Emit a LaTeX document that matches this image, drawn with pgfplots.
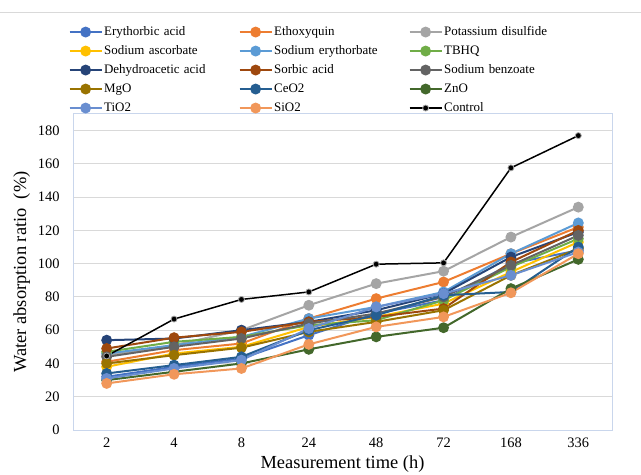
\documentclass[border=0pt]{standalone}
\usepackage{fontspec}
\setmainfont{Liberation Serif}
\usepackage{pgfplots}
\pgfplotsset{compat=1.18}
\definecolor{cEry}{HTML}{4472C4}
\definecolor{cEth}{HTML}{ED7D31}
\definecolor{cPot}{HTML}{A5A5A5}
\definecolor{cAsc}{HTML}{FFC000}
\definecolor{cSEr}{HTML}{5B9BD5}
\definecolor{cTBH}{HTML}{70AD47}
\definecolor{cDeh}{HTML}{264478}
\definecolor{cSor}{HTML}{9E480E}
\definecolor{cBen}{HTML}{636363}
\definecolor{cMgO}{HTML}{997300}
\definecolor{cCeO}{HTML}{255E91}
\definecolor{cZnO}{HTML}{43682B}
\definecolor{cTiO}{HTML}{698ED0}
\definecolor{cSiO}{HTML}{F1975A}
\definecolor{gridgray}{HTML}{D9D9D9}
\definecolor{axisblue}{HTML}{C9D6EC}
\begin{document}
\begin{tikzpicture}
\draw[gridgray, line width=1bp] (0bp,462bp) -- (641bp,462bp);
\begin{axis}[
  at={(73bp,45bp)}, anchor=south west,
  scale only axis, width=539bp, height=316bp,
  xmin=-0.5, xmax=7.5, ymin=0, ymax=190,
  xtick={0,...,7}, xticklabels={2,4,8,24,48,72,168,336},
  ytick={0,20,...,180},
  ymajorgrids, grid style={color=gridgray, line width=1bp},
  axis line style={color=axisblue, line width=1bp},
  major tick length=0pt,
  /pgf/number format/assume math mode=true,
  tick label style={font=\fontsize{14.5}{16}\selectfont},
  yticklabel style={xshift=-10bp},
  xticklabel style={yshift=-4bp},
  xlabel={Measurement time (h)}, ylabel={Water absorption ratio\ \ (\%)},
  label style={font=\fontsize{18.5}{20}\selectfont},
  xlabel style={yshift=-2bp},
  ylabel style={yshift=1bp},
  legend columns=3,
  legend cell align=left,
  legend style={at={(-0.014,1.29)}, anchor=north west, draw=none, fill=none,
    font=\fontsize{13}{14}\selectfont,
    nodes={inner sep=1.5bp, text height=9bp, text depth=3bp},
    row sep=4bp,
    /tikz/every even column/.append style={text width=133bp, align=left}},
  legend image code/.code={\draw[mark repeat=2,mark phase=2,#1] plot coordinates {(0bp,0bp) (16bp,0bp) (32bp,0bp)};},
  every axis plot/.append style={line width=2bp, mark=*, mark size=4.4bp},
]
\addplot[color=cEry, mark options={fill=cEry}] coordinates {(0,32) (1,38) (2,43) (3,57) (4,70) (5,78) (6,100) (7,108)};
\addlegendentry{Erythorbic acid}
\addplot[color=cEth, mark options={fill=cEth}] coordinates {(0,41) (1,48) (2,52) (3,67) (4,79) (5,89) (6,106) (7,122)};
\addlegendentry{Ethoxyquin}
\addplot[color=cPot, mark options={fill=cPot}] coordinates {(0,45) (1,51) (2,60) (3,75) (4,88) (5,95.5) (6,116) (7,134)};
\addlegendentry{Potassium disulfide}
\addplot[color=cAsc, mark options={fill=cAsc}] coordinates {(0,38) (1,46) (2,50) (3,62) (4,68) (5,76) (6,95) (7,113)};
\addlegendentry{Sodium ascorbate}
\addplot[color=cSEr, mark options={fill=cSEr}] coordinates {(0,46) (1,51) (2,56) (3,67) (4,74) (5,83) (6,106) (7,124.5)};
\addlegendentry{Sodium erythorbate}
\addplot[color=cTBH, mark options={fill=cTBH}] coordinates {(0,47) (1,53) (2,56) (3,63) (4,66) (5,78) (6,98) (7,115)};
\addlegendentry{TBHQ}
\addplot[color=cDeh, mark options={fill=cDeh}] coordinates {(0,54) (1,55) (2,60) (3,65) (4,72) (5,82) (6,104) (7,119)};
\addlegendentry{Dehydroacetic acid}
\addplot[color=cSor, mark options={fill=cSor}] coordinates {(0,49) (1,55.5) (2,59) (3,65) (4,68) (5,73) (6,101) (7,120)};
\addlegendentry{Sorbic acid}
\addplot[color=cBen, mark options={fill=cBen}] coordinates {(0,44) (1,50) (2,55) (3,64) (4,70) (5,80) (6,99) (7,117)};
\addlegendentry{Sodium benzoate}
\addplot[color=cMgO, mark options={fill=cMgO}] coordinates {(0,40) (1,45) (2,49.5) (3,59) (4,65) (5,72) (6,93) (7,109)};
\addlegendentry{MgO}
\addplot[color=cCeO, mark options={fill=cCeO}] coordinates {(0,34) (1,39) (2,44) (3,60) (4,69) (5,81) (6,83) (7,110)};
\addlegendentry{CeO2}
\addplot[color=cZnO, mark options={fill=cZnO}] coordinates {(0,30) (1,35) (2,40) (3,48.5) (4,56) (5,61.5) (6,85) (7,102.6)};
\addlegendentry{ZnO}
\addplot[color=cTiO, mark options={fill=cTiO}] coordinates {(0,31) (1,37) (2,42) (3,61) (4,74) (5,82) (6,93) (7,107)};
\addlegendentry{TiO2}
\addplot[color=cSiO, mark options={fill=cSiO}] coordinates {(0,28) (1,33.5) (2,37) (3,51.5) (4,62) (5,68) (6,82.5) (7,106)};
\addlegendentry{SiO2}
\addplot[color=black, line width=1.5bp, mark size=3bp, mark options={fill=black, draw=white!65!black, line width=0.8bp}] coordinates {(0,44.5) (1,66.7) (2,78.5) (3,83) (4,99.7) (5,100.5) (6,157.6) (7,177)};
\addlegendentry{Control}
\end{axis}
\pgfresetboundingbox
\path (0bp,0bp) rectangle (641bp,475bp);
\end{tikzpicture}
\end{document}
